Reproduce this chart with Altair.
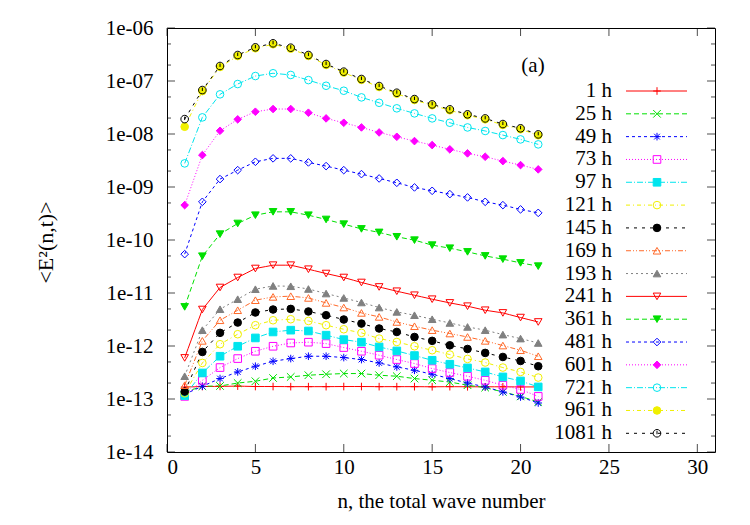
import altair as alt
import pandas as pd

# ---------------- data ----------------
n_values = [1, 2, 3, 4, 5, 6, 7, 8, 9, 10, 11, 12, 13, 14, 15, 16, 17, 18, 19, 20, 21]

labels = ["1 h", "25 h", "49 h", "73 h", "97 h", "121 h", "145 h", "169 h", "193 h",
          "241 h", "361 h", "481 h", "601 h", "721 h", "961 h", "1081 h"]

h1 = [1.68e-13, 1.72e-13, 1.73e-13, 1.75e-13, 1.72e-13, 1.72e-13, 1.71e-13, 1.71e-13, 1.71e-13, 1.72e-13,
      1.72e-13, 1.71e-13, 1.71e-13, 1.71e-13, 1.70e-13, 1.71e-13, 1.70e-13, 1.70e-13, 1.70e-13, 1.69e-13, 1.69e-13]
h25 = [1.34e-13, 1.74e-13, 1.76e-13, 2.00e-13, 2.16e-13, 2.49e-13, 2.61e-13, 2.81e-13, 2.93e-13, 3.02e-13,
       3.02e-13, 2.81e-13, 2.69e-13, 2.43e-13, 2.26e-13, 2.09e-13, 1.82e-13, 1.64e-13, 1.36e-13, 1.12e-13, 8.79e-14]
h49 = [1.23e-13, 1.74e-13, 2.43e-13, 3.24e-13, 4.15e-13, 5.15e-13, 5.79e-13, 6.41e-13, 6.41e-13, 6.05e-13,
       5.55e-13, 4.79e-13, 4.03e-13, 3.48e-13, 2.93e-13, 2.43e-13, 2.00e-13, 1.69e-13, 1.36e-13, 1.09e-13, 8.41e-14]
h73 = [1.12e-13, 2.25e-13, 3.92e-13, 5.79e-13, 7.96e-13, 9.89e-13, 1.14e-12, 1.18e-12, 1.11e-12, 9.35e-13,
       7.96e-13, 6.70e-13, 5.55e-13, 4.67e-13, 3.75e-13, 3.16e-13, 2.69e-13, 2.25e-13, 1.82e-13, 1.51e-13, 1.12e-13]
h97 = [1.16e-13, 3.10e-13, 6.41e-13, 9.89e-13, 1.42e-12, 1.84e-12, 1.99e-12, 1.92e-12, 1.60e-12, 1.32e-12,
       1.18e-12, 9.59e-13, 8.07e-13, 6.61e-13, 5.38e-13, 4.53e-13, 3.86e-13, 3.24e-13, 2.61e-13, 2.19e-13, 1.69e-13]
h121 = [1.28e-13, 4.79e-13, 1.08e-12, 1.67e-12, 2.47e-12, 3.06e-12, 3.20e-12, 2.97e-12, 2.47e-12, 2.07e-12,
        1.77e-12, 1.38e-12, 1.19e-12, 9.89e-13, 8.32e-13, 6.90e-13, 5.70e-13, 4.88e-13, 3.92e-13, 3.24e-13, 2.54e-13]
h145 = [1.38e-13, 7.72e-13, 1.77e-12, 2.77e-12, 4.29e-12, 4.88e-12, 5.01e-12, 4.48e-12, 3.81e-12, 3.16e-12,
        2.65e-12, 2.14e-12, 1.84e-12, 1.48e-12, 1.25e-12, 1.03e-12, 8.79e-13, 7.40e-13, 6.21e-13, 5.22e-13, 4.15e-13]
h169 = [1.82e-13, 1.25e-12, 3.06e-12, 4.73e-12, 7.31e-12, 8.44e-12, 8.71e-12, 8.07e-12, 6.50e-12, 5.32e-12,
        4.21e-12, 3.54e-12, 2.84e-12, 2.36e-12, 1.99e-12, 1.72e-12, 1.48e-12, 1.25e-12, 1.02e-12, 8.32e-13, 6.41e-13]
h193 = [2.69e-13, 1.99e-12, 4.94e-12, 7.64e-12, 1.18e-11, 1.36e-11, 1.34e-11, 1.19e-11, 9.77e-12, 8.07e-12,
        6.62e-12, 5.32e-12, 4.40e-12, 3.81e-12, 3.20e-12, 2.72e-12, 2.29e-12, 1.99e-12, 1.64e-12, 1.38e-12, 1.14e-12]
h241 = [5.96e-13, 4.88e-12, 1.27e-11, 1.96e-11, 2.90e-11, 3.35e-11, 3.35e-11, 2.81e-11, 2.33e-11, 1.96e-11,
        1.58e-11, 1.30e-11, 1.08e-11, 9.08e-12, 7.64e-12, 6.50e-12, 5.64e-12, 4.73e-12, 4.21e-12, 3.44e-12, 2.84e-12]
h361 = [5.47e-12, 4.95e-11, 1.29e-10, 2.05e-10, 2.94e-10, 3.40e-10, 3.40e-10, 2.94e-10, 2.44e-10, 1.99e-10,
        1.62e-10, 1.39e-10, 1.15e-10, 9.93e-11, 8.00e-11, 7.01e-11, 5.97e-11, 5.01e-11, 4.35e-11, 3.70e-11, 3.21e-11]
h481 = [5.41e-11, 5.25e-10, 1.41e-09, 2.08e-09, 2.99e-09, 3.47e-09, 3.47e-09, 2.91e-09, 2.48e-09, 2.08e-09,
        1.75e-09, 1.45e-09, 1.20e-09, 9.82e-10, 8.47e-10, 7.34e-10, 6.36e-10, 5.25e-10, 4.55e-10, 3.78e-10, 3.25e-10]
h601 = [4.55e-10, 4.00e-09, 1.15e-08, 1.89e-08, 2.63e-08, 2.96e-08, 2.96e-08, 2.52e-08, 1.97e-08, 1.63e-08,
        1.33e-08, 1.07e-08, 8.86e-09, 7.35e-09, 6.18e-09, 5.13e-09, 4.31e-09, 3.72e-09, 3.08e-09, 2.59e-09, 2.15e-09]
h721 = [2.79e-09, 2.06e-08, 5.60e-08, 8.77e-08, 1.24e-07, 1.40e-07, 1.30e-07, 1.04e-07, 8.13e-08, 6.55e-08,
        4.91e-08, 3.88e-08, 3.05e-08, 2.45e-08, 1.97e-08, 1.63e-08, 1.33e-08, 1.14e-08, 9.54e-09, 7.91e-09, 6.37e-09]
h961 = [1.37e-08, 6.45e-08, 1.84e-07, 2.96e-07, 4.14e-07, 4.93e-07, 4.08e-07, 2.97e-07, 2.01e-07, 1.44e-07,
        1.05e-07, 7.71e-08, 5.76e-08, 4.38e-08, 3.48e-08, 2.80e-08, 2.26e-08, 1.89e-08, 1.48e-08, 1.23e-08, 9.45e-09]
h1081 = [1.91e-08, 6.75e-08, 1.92e-07, 3.09e-07, 4.32e-07, 5.14e-07, 4.25e-07, 3.09e-07, 2.09e-07, 1.50e-07,
         1.09e-07, 8.03e-08, 6.00e-08, 4.56e-08, 3.62e-08, 2.92e-08, 2.35e-08, 1.97e-08, 1.54e-08, 1.28e-08, 9.84e-09]

series_values = [h1, h25, h49, h73, h97, h121, h145, h169, h193,
                 h241, h361, h481, h601, h721, h961, h1081]

x_ticks = [0, 5, 10, 15, 20, 25, 30]
y_decades = [1e-14, 1e-13, 1e-12, 1e-11, 1e-10, 1e-09, 1e-08, 1e-07, 1e-06]
y_minor = [2e-14, 5e-14, 2e-13, 5e-13, 2e-12, 5e-12, 2e-11, 5e-11,
           2e-10, 5e-10, 2e-09, 5e-09, 2e-08, 5e-08, 2e-07, 5e-07]

# ---------------- styles ----------------
RED, GREEN, BLUE, MAG, CYAN, YEL, BLK = "#ff0000", "#00e000", "#0000ff", "#ff00ff", "#00e5ee", "#f0f000", "#000000"
ORANGE, GRAY = "#ff6a2a", "#808080"
colors = [RED, GREEN, BLUE, MAG, CYAN, YEL, BLK, ORANGE, GRAY,
          RED, GREEN, BLUE, MAG, CYAN, YEL, BLK]
base_dash = [[10, 0], [5, 3], [3, 3], [1, 2], [6, 2, 1, 2], [4, 3, 1, 3], [3, 5], [5, 2, 1, 2, 1, 2], [2, 3]]
dashes = base_dash + base_dash[:7]
PLUS = "M-1,0H1M0,-1V1"
XCROSS = "M-1,-1L1,1M-1,1L1,-1"
STAR = "M-1,0H1M0,-1V1M-0.75,-0.75L0.75,0.75M-0.75,0.75L0.75,-0.75"
CTICK = "M-1,0A1,1,0,1,1,1,0A1,1,0,1,1,-1,0ZM0,-0.65L0,0.25"
shapes = [PLUS, XCROSS, STAR, "square", "square", "circle", "circle", "triangle-up", "triangle-up",
          "triangle-down", "triangle-down", "diamond", "diamond", "circle", "circle", CTICK]
T = "transparent"
fills = [T, T, T, T, CYAN, T, BLK, T, GRAY, T, GREEN, T, MAG, T, YEL, T]

SERIF = "Liberation Serif"
FS = 21
W, H = 548, 424

rows = []
for lab, vals in zip(labels, series_values):
    for k, v in zip(n_values, vals):
        rows.append({"series": lab, "n": k, "E2": v})
df = pd.DataFrame(rows)

xscale = alt.Scale(domain=[0, 31], nice=False, zero=False)
yscale = alt.Scale(type="log", domain=[1e-14, 1e-6], nice=False)

stroke_enc = alt.Stroke("series:N", scale=alt.Scale(domain=labels, range=colors), legend=None)
dash_enc = alt.StrokeDash("series:N", scale=alt.Scale(domain=labels, range=dashes), legend=None)
shape_enc = alt.Shape("series:N", scale=alt.Scale(domain=labels, range=shapes), legend=None)
fill_enc = alt.Fill("series:N", scale=alt.Scale(domain=labels, range=fills), legend=None)

x_enc = alt.X("n:Q", scale=xscale,
              axis=alt.Axis(values=x_ticks, ticks=False, tickSize=0, domain=False, grid=False,
                            labelFont=SERIF, labelFontSize=FS, labelColor="black", labelPadding=4,
                            title="n, the total wave number", titleFont=SERIF, titleFontSize=FS,
                            titleFontWeight="normal", titleColor="black", titleY=49, titleBaseline="middle"))
y_label_expr = ("'1e-' + (abs(round(log(datum.value)/LN10)) < 10 ? '0' : '') + "
                "abs(round(log(datum.value)/LN10))")
y_enc = alt.Y("E2:Q", scale=yscale,
              axis=alt.Axis(values=y_decades, ticks=False, tickSize=0, domain=False, grid=False,
                            labelExpr=y_label_expr, labelFont=SERIF, labelFontSize=FS, labelColor="black",
                            labelPadding=14, title="<E²(n,t)>", titleFont=SERIF, titleFontSize=22,
                            titleFontWeight="normal", titleColor="black", titleX=-122, titleY=214,
                            titleBaseline="middle", titleAngle=-90))

base = alt.Chart(df)
lines = base.mark_line(strokeWidth=1).encode(x=x_enc, y=y_enc, stroke=stroke_enc, strokeDash=dash_enc,
                                             order="n:Q")
points = base.mark_point(filled=True, size=58, strokeWidth=1, opacity=1).encode(
    x="n:Q", y="E2:Q", shape=shape_enc, fill=fill_enc, stroke=stroke_enc)

# inward frame ticks
ydec_df = pd.DataFrame({"v": y_decades})
ymin_df = pd.DataFrame({"v": y_minor})
xt_df = pd.DataFrame({"v": x_ticks})
tick_layers = []
for xpos, sz, d in [(4, 8, ydec_df), (W - 4, 8, ydec_df), (2, 4, ymin_df), (W - 2, 4, ymin_df)]:
    tick_layers.append(alt.Chart(d).mark_tick(orient="horizontal", size=sz, thickness=1, color="black")
                       .encode(y=alt.Y("v:Q", scale=yscale), x=alt.value(xpos)))
for ypos in [H - 4, 4]:
    tick_layers.append(alt.Chart(xt_df).mark_tick(orient="vertical", size=8, thickness=1, color="black")
                       .encode(x=alt.X("v:Q", scale=xscale), y=alt.value(ypos)))

plot = alt.layer(lines, points, *tick_layers)

# gnuplot-style key inside the frame
leg_df = pd.DataFrame({"series": labels, "row": list(range(len(labels)))})
leg_y = alt.Y("row:Q", scale=alt.Scale(domain=[0, len(labels) - 1], range=[63, 405.3], nice=False, zero=False),
              axis=None)
leg = alt.Chart(leg_df)
leg_text = leg.mark_text(align="right", baseline="middle", font=SERIF, fontSize=FS, color="black").encode(
    x=alt.value(445), y=leg_y, text="series:N")
leg_rule = leg.mark_rule(strokeWidth=1).encode(x=alt.value(459), x2=alt.value(520), y=leg_y,
                                               stroke=stroke_enc, strokeDash=dash_enc)
leg_pts = leg.mark_point(filled=True, size=58, strokeWidth=1, opacity=1).encode(
    x=alt.value(490), y=leg_y, shape=shape_enc, fill=fill_enc, stroke=stroke_enc)
legend = alt.layer(leg_text, leg_rule, leg_pts)

panel_df = pd.DataFrame({"t": ["(a)"]})
panel = alt.Chart(panel_df).mark_text(font=SERIF, fontSize=FS, color="black", align="center",
                                      baseline="middle").encode(text="t:N", x=alt.value(366), y=alt.value(38))

chart = alt.layer(plot, legend, panel).resolve_scale(y="independent").properties(
    width=W, height=H,
    autosize=alt.AutoSizeParams(type="none"),
    padding={"left": 167, "top": 28, "right": 35, "bottom": 73},
    background="white",
).configure_view(stroke="black", strokeWidth=1)

chart.save("out.html", embed_options={"renderer": "svg", "actions": False})
